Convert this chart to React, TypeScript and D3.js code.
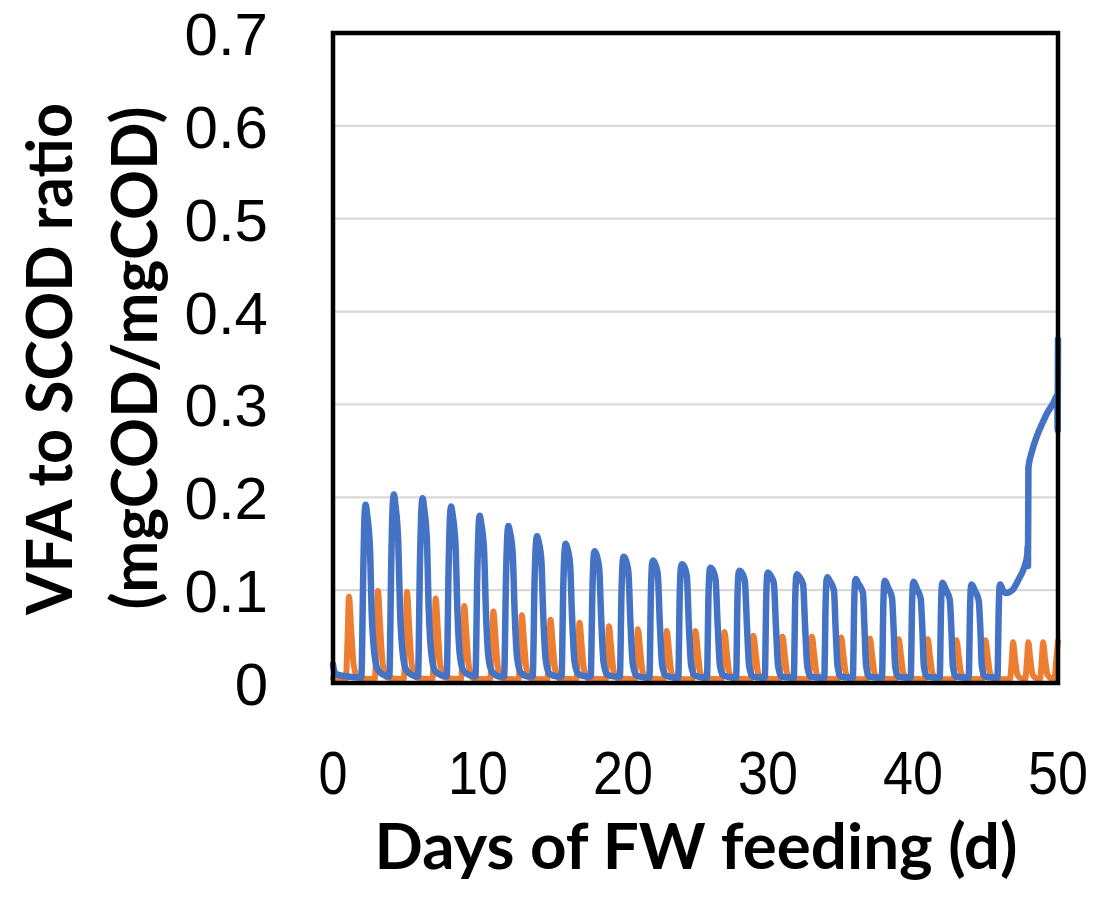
import React from "react";
import * as d3 from "d3";

// x tick values and y tick values / labels
const xTicks = [0, 10, 20, 30, 40, 50];
const yTicks = [0, 0.1, 0.2, 0.3, 0.4, 0.5, 0.6, 0.7];
const yTickLabels = ["0", "0.1", "0.2", "0.3", "0.4", "0.5", "0.6", "0.7"];

// blue series, [day, ratio]
const blueSeries: [number, number][] = [
  [0, 0.02], [0.1, 0.012], [0.3, 0.009], [1.0, 0.007],
  [1.95, 0.006], [2.1, 0.13], [2.18, 0.182], [2.25, 0.192], [2.35, 0.182], [2.55, 0.145], [2.67, 0.075], [2.85, 0.032], [3.1, 0.014], [3.6, 0.008],
  [3.88, 0.007], [4.03, 0.14], [4.12, 0.192], [4.2, 0.203], [4.3, 0.192], [4.5, 0.152], [4.62, 0.08], [4.8, 0.033], [5.05, 0.014], [5.55, 0.008],
  [5.86, 0.007], [6.01, 0.14], [6.1, 0.188], [6.18, 0.199], [6.28, 0.189], [6.48, 0.152], [6.6, 0.08], [6.78, 0.032], [7.03, 0.013], [7.5, 0.008],
  [7.84, 0.007], [7.98, 0.13], [8.07, 0.18], [8.15, 0.19], [8.25, 0.181], [8.45, 0.148], [8.58, 0.078], [8.75, 0.03], [9.0, 0.013], [9.5, 0.008],
  [9.82, 0.007], [9.96, 0.125], [10.05, 0.171], [10.12, 0.18], [10.22, 0.172], [10.42, 0.142], [10.55, 0.075], [10.72, 0.028], [10.97, 0.012], [11.5, 0.007],
  [11.8, 0.007], [11.94, 0.12], [12.03, 0.161], [12.1, 0.169], [12.2, 0.163], [12.4, 0.138], [12.53, 0.075], [12.7, 0.027], [12.95, 0.011], [13.5, 0.007],
  [13.77, 0.007], [13.91, 0.115], [14.0, 0.151], [14.07, 0.158], [14.17, 0.153], [14.37, 0.132], [14.5, 0.072], [14.67, 0.025], [14.92, 0.01], [15.5, 0.007],
  [15.76, 0.007], [15.89, 0.11], [15.98, 0.144], [16.05, 0.15], [16.15, 0.146], [16.35, 0.128], [16.49, 0.07], [16.65, 0.024], [16.9, 0.01], [17.5, 0.007],
  [17.77, 0.007], [17.9, 0.105], [17.98, 0.137], [18.05, 0.142], [18.15, 0.139], [18.36, 0.123], [18.5, 0.068], [18.66, 0.022], [18.9, 0.009], [19.5, 0.007],
  [19.78, 0.007], [19.9, 0.1], [19.98, 0.131], [20.05, 0.136], [20.15, 0.134], [20.37, 0.12], [20.51, 0.066], [20.67, 0.021], [20.92, 0.008], [21.5, 0.006],
  [21.82, 0.006], [21.93, 0.1], [22.0, 0.128], [22.07, 0.132], [22.17, 0.13], [22.4, 0.117], [22.54, 0.064], [22.7, 0.019], [22.95, 0.008], [23.5, 0.006],
  [23.81, 0.006], [23.92, 0.1], [23.99, 0.124], [24.06, 0.128], [24.16, 0.127], [24.4, 0.115], [24.54, 0.063], [24.7, 0.019], [24.95, 0.008], [25.5, 0.006],
  [25.79, 0.006], [25.9, 0.097], [25.97, 0.121], [26.03, 0.124], [26.13, 0.123], [26.38, 0.112], [26.53, 0.062], [26.69, 0.018], [26.93, 0.008], [27.5, 0.006],
  [27.8, 0.006], [27.9, 0.095], [27.97, 0.118], [28.03, 0.121], [28.14, 0.12], [28.4, 0.11], [28.55, 0.061], [28.7, 0.018], [28.93, 0.007], [29.5, 0.006],
  [29.78, 0.006], [29.88, 0.093], [29.94, 0.116], [30.0, 0.119], [30.12, 0.117], [30.4, 0.108], [30.55, 0.06], [30.7, 0.018], [30.92, 0.007], [31.5, 0.006],
  [31.78, 0.006], [31.88, 0.092], [31.94, 0.114], [32.0, 0.117], [32.12, 0.115], [32.42, 0.106], [32.56, 0.06], [32.71, 0.018], [32.92, 0.007], [33.5, 0.006],
  [33.88, 0.006], [33.98, 0.09], [34.04, 0.111], [34.1, 0.114], [34.22, 0.111], [34.55, 0.1], [34.66, 0.06], [34.8, 0.018], [35.0, 0.007], [35.5, 0.006],
  [35.85, 0.006], [35.95, 0.088], [36.0, 0.109], [36.06, 0.112], [36.2, 0.108], [36.55, 0.097], [36.65, 0.06], [36.77, 0.018], [36.96, 0.007], [37.5, 0.006],
  [37.86, 0.006], [37.96, 0.087], [38.01, 0.107], [38.06, 0.11], [38.3, 0.102], [38.55, 0.092], [38.66, 0.06], [38.77, 0.018], [38.96, 0.007], [39.5, 0.006],
  [39.84, 0.006], [39.94, 0.086], [39.99, 0.106], [40.04, 0.109], [40.28, 0.101], [40.53, 0.091], [40.64, 0.06], [40.75, 0.018], [40.94, 0.007], [41.5, 0.006],
  [41.84, 0.006], [41.94, 0.085], [41.99, 0.105], [42.04, 0.108], [42.28, 0.1], [42.53, 0.09], [42.64, 0.06], [42.75, 0.018], [42.94, 0.007], [43.5, 0.006],
  [43.84, 0.006], [43.94, 0.084], [43.99, 0.103], [44.04, 0.106], [44.28, 0.099], [44.53, 0.089], [44.64, 0.06], [44.75, 0.018], [44.94, 0.007], [45.5, 0.006],
  [45.82, 0.006], [45.92, 0.085], [45.97, 0.104], [46.02, 0.106], [46.2, 0.1], [46.42, 0.097], [46.85, 0.1], [47.3, 0.112], [47.66, 0.124], [47.88, 0.138],
  [47.91, 0.147], [47.93, 0.126], [47.96, 0.232], [48.2, 0.249], [48.5, 0.264], [48.9, 0.279], [49.3, 0.292], [49.7, 0.302], [49.95, 0.31], [49.98, 0.272], [50, 0.37],
];

// orange series, [day, ratio]
const orangeSeries: [number, number][] = [
  [0, 0.005], [0.5, 0.004],
  [0.88, 0.004], [1.02, 0.056], [1.1, 0.093], [1.26, 0.056], [1.43, 0.019], [1.7, 0.006],
  [2.88, 0.004], [3.02, 0.059], [3.1, 0.099], [3.26, 0.059], [3.43, 0.02], [3.7, 0.006],
  [4.88, 0.004], [5.02, 0.059], [5.1, 0.098], [5.26, 0.059], [5.43, 0.02], [5.7, 0.006],
  [6.86, 0.004], [7.0, 0.055], [7.08, 0.091], [7.24, 0.055], [7.41, 0.018], [7.68, 0.006],
  [8.83, 0.004], [8.97, 0.05], [9.05, 0.083], [9.21, 0.05], [9.38, 0.017], [9.65, 0.005],
  [10.84, 0.004], [10.98, 0.046], [11.06, 0.077], [11.22, 0.046], [11.39, 0.015], [11.66, 0.005],
  [12.8, 0.004], [12.94, 0.044], [13.02, 0.073], [13.18, 0.044], [13.35, 0.015], [13.62, 0.005],
  [14.78, 0.004], [14.92, 0.041], [15.0, 0.068], [15.16, 0.041], [15.33, 0.014], [15.6, 0.005],
  [16.78, 0.004], [16.92, 0.039], [17.0, 0.065], [17.16, 0.039], [17.33, 0.013], [17.6, 0.005],
  [18.81, 0.004], [18.95, 0.037], [19.03, 0.061], [19.19, 0.037], [19.36, 0.012], [19.63, 0.005],
  [20.81, 0.004], [20.95, 0.035], [21.03, 0.058], [21.19, 0.035], [21.36, 0.012], [21.63, 0.005],
  [22.8, 0.004], [22.94, 0.034], [23.02, 0.056], [23.18, 0.034], [23.35, 0.011], [23.62, 0.005],
  [24.78, 0.004], [24.92, 0.034], [25.0, 0.056], [25.16, 0.034], [25.33, 0.011], [25.6, 0.005],
  [26.78, 0.004], [26.92, 0.033], [27.0, 0.055], [27.16, 0.033], [27.33, 0.011], [27.6, 0.005],
  [28.78, 0.004], [28.92, 0.031], [29.0, 0.051], [29.16, 0.031], [29.33, 0.01], [29.6, 0.005],
  [30.78, 0.004], [30.92, 0.03], [31.0, 0.05], [31.16, 0.03], [31.33, 0.01], [31.6, 0.005],
  [32.81, 0.004], [32.95, 0.03], [33.03, 0.05], [33.19, 0.03], [33.36, 0.01], [33.63, 0.005],
  [34.83, 0.004], [34.97, 0.029], [35.05, 0.049], [35.21, 0.029], [35.38, 0.01], [35.65, 0.005],
  [36.81, 0.004], [36.95, 0.029], [37.03, 0.048], [37.19, 0.029], [37.36, 0.01], [37.63, 0.005],
  [38.8, 0.004], [38.94, 0.028], [39.02, 0.047], [39.18, 0.028], [39.35, 0.01], [39.62, 0.005],
  [40.8, 0.004], [40.94, 0.028], [41.02, 0.047], [41.18, 0.028], [41.35, 0.01], [41.62, 0.005],
  [42.78, 0.004], [42.92, 0.028], [43.0, 0.046], [43.16, 0.028], [43.33, 0.01], [43.6, 0.005],
  [44.78, 0.004], [44.92, 0.028], [45.0, 0.046], [45.16, 0.028], [45.33, 0.01], [45.6, 0.005],
  [46.68, 0.004], [46.82, 0.026], [46.9, 0.044], [47.04, 0.026], [47.2, 0.009], [47.45, 0.005],
  [47.73, 0.004], [47.87, 0.026], [47.95, 0.044], [48.09, 0.026], [48.25, 0.009], [48.5, 0.005],
  [48.75, 0.004], [48.89, 0.026], [48.97, 0.044], [49.11, 0.026], [49.27, 0.009], [49.52, 0.005],
  [49.75, 0.004], [49.89, 0.027], [50, 0.045],
];

const W = 1119;
const H = 900;
const plot = { left: 333, right: 1058, top: 33, bottom: 683 };

export default function App() {
  const x = d3.scaleLinear().domain([0, 50]).range([plot.left, plot.right]);
  const y = d3.scaleLinear().domain([0, 0.7]).range([plot.bottom, plot.top]);

  const line = d3
    .line<[number, number]>()
    .x((d) => x(d[0]))
    .y((d) => y(d[1]))
    .curve(d3.curveMonotoneX);

  const tickFont = "'Liberation Sans', Arial, sans-serif";
  const titleFont = "Lato, 'Open Sans', sans-serif";

  return (
    <svg
      width={W}
      height={H}
      style={{ position: "absolute", left: 0, top: 0, background: "#fff" }}
    >
      <rect x={0} y={0} width={W} height={H} fill="#fff" />

      {/* gridlines */}
      {yTicks.slice(1, -1).map((t) => (
        <line
          key={t}
          x1={plot.left}
          x2={plot.right}
          y1={y(t)}
          y2={y(t)}
          stroke="#d9d9d9"
          strokeWidth={2.2}
        />
      ))}

      <path
        d={line(orangeSeries) || ""}
        fill="none"
        stroke="#ED7D31"
        strokeWidth={6}
        strokeLinejoin="round"
        strokeLinecap="round"
      />
      <path
        d={line(blueSeries) || ""}
        fill="none"
        stroke="#4472C4"
        strokeWidth={6.5}
        strokeLinejoin="round"
        strokeLinecap="round"
      />

      {/* frame */}
      <rect
        x={plot.left}
        y={plot.top}
        width={plot.right - plot.left}
        height={plot.bottom - plot.top}
        fill="none"
        stroke="#000"
        strokeWidth={4.5}
      />

      {/* y tick labels */}
      {yTicks.map((t, i) => (
        <text
          key={t}
          x={268}
          y={y(t) + 22}
          textAnchor="end"
          fontFamily={tickFont}
          fontSize={60}
          fill="#000"
        >
          {yTickLabels[i]}
        </text>
      ))}

      {/* x tick labels */}
      {xTicks.map((t) => (
        <text
          key={t}
          x={x(t)}
          y={794}
          textAnchor="middle"
          fontFamily={tickFont}
          fontSize={61}
          fill="#000"
          textLength={t === 0 ? 29 : 60}
          lengthAdjust="spacingAndGlyphs"
        >
          {t}
        </text>
      ))}

      {/* x title */}
      <text
        x={696}
        y={869}
        textAnchor="middle"
        fontFamily={titleFont}
        fontWeight="bold"
        fontSize={64}
        textLength={643}
        lengthAdjust="spacingAndGlyphs"
        fill="#000"
      >
        Days of FW feeding (d)
      </text>

      {/* y title, two lines */}
      <g transform="translate(72, 359) rotate(-90)">
        <text
          x={0}
          y={0}
          textAnchor="middle"
          fontFamily={titleFont}
          fontWeight="bold"
          fontSize={64}
          textLength={512}
          lengthAdjust="spacingAndGlyphs"
          fill="#000"
        >
          VFA to SCOD ratio
        </text>
      </g>
      <g transform="translate(157, 358) rotate(-90)">
        <text
          x={0}
          y={0}
          textAnchor="middle"
          fontFamily={titleFont}
          fontWeight="bold"
          fontSize={64}
          textLength={503}
          lengthAdjust="spacingAndGlyphs"
          fill="#000"
        >
          (mgCOD/mgCOD)
        </text>
      </g>
    </svg>
  );
}
